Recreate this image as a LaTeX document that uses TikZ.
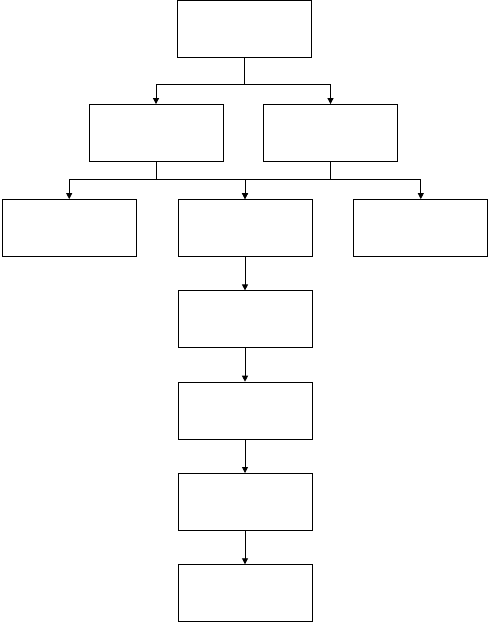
\documentclass[tikz,border=0pt]{standalone}
\usepackage{tikz}
\usetikzlibrary{arrows.meta,positioning}

\begin{document}
\begin{tikzpicture}[
    x=1pt, y=1pt,
    node distance=33.5pt and 41pt,
    stagebox/.style={draw, line width=0.8pt, minimum width=134pt, minimum height=57pt, inner sep=0pt},
    arrow/.style={-{Triangle[length=6pt, width=6pt]}, line width=0.8pt}
  ]
  \useasboundingbox (0,0) rectangle (489,-623);
  \node[stagebox] (top) at (244.5,-28.5) {};
  \node[stagebox] (left) at (156,-133) {};
  \node[stagebox] (right) at (330.5,-133) {};
  \node[stagebox] (mid) at (245,-228) {};
  \node[stagebox, left=of mid] (west) {};
  \node[stagebox, right=of mid] (east) {};
  \node[stagebox, below=of mid] (stepa) {};
  \node[stagebox, below=of stepa] (stepb) {};
  \node[stagebox, below=of stepb] (stepc) {};
  \node[stagebox, below=of stepc] (stepd) {};
  \draw[arrow] (top.south) -- ++(0,-27.5) -| (left.north);
  \draw[arrow] (top.south) -- ++(0,-27.5) -| (right.north);
  \draw[arrow] (left.south) -- ++(0,-17) -| (west.north);
  \draw[arrow] (left.south) -- ++(0,-17) -| (mid.north);
  \draw[arrow] (right.south) -- ++(0,-17) -| (mid.north);
  \draw[arrow] (right.south) -- ++(0,-17) -| (east.north);
  \draw[arrow] (mid) -- (stepa);
  \draw[arrow] (stepa) -- (stepb);
  \draw[arrow] (stepb) -- (stepc);
  \draw[arrow] (stepc) -- (stepd);
\end{tikzpicture}
\end{document}
